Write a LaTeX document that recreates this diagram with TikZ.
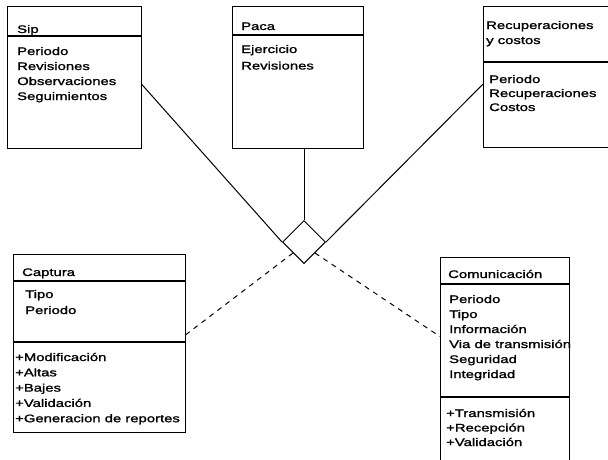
\documentclass[tikz,border=0pt]{standalone}
\usepackage{fontspec}
\setmainfont{Liberation Sans}[FakeStretch=1.35,FakeBold=1.4]
\usetikzlibrary{shapes.geometric,calc}

\tikzset{
  part/.style={draw, line width=1pt, anchor=north west, inner sep=0pt, rectangle},
  txt/.style={anchor=base west, inner sep=0pt, font=\fontsize{11}{13}\selectfont},
  link/.style={line width=1pt},
  weak/.style={line width=1pt, dash pattern=on 5pt off 5pt},
}

\begin{document}
\begin{tikzpicture}[x=1pt, y=-1pt]
\useasboundingbox (0,0) rectangle (608,459);
\clip (0,0) rectangle (608,459);

% --- Sip ---
\node[part, minimum width=134pt, minimum height=29pt] (siphead) at (7,6) {};
\node[part, minimum width=134pt, minimum height=112pt] (sipbody) at (siphead.south west) {};
\node[txt] (siptitle) at (17,33) {Sip};
\foreach \t [count=\i from 0] in {Periodo,Revisiones,Observaciones,Seguimientos}
  \node[txt] (sipattr\i) at (17,55+15*\i) {\t};

% --- Paca ---
\node[part, minimum width=131pt, minimum height=28pt] (pacahead) at (232,6) {};
\node[part, minimum width=131pt, minimum height=113pt] (pacabody) at (pacahead.south west) {};
\node[txt] (pacatitle) at (241,30) {Paca};
\foreach \t [count=\i from 0] in {Ejercicio,Revisiones}
  \node[txt] (pacaattr\i) at (241,53+16.5*\i) {\t};

% --- Recuperaciones y costos ---
\node[part, minimum width=129pt, minimum height=55pt] (rechead) at (483,6) {};
\node[part, minimum width=129pt, minimum height=85pt] (recbody) at (rechead.south west) {};
\node[txt] (rectitle0) at (486,29) {Recuperaciones};
\node[txt] (rectitle1) at (486,44) {y costos};
\foreach \t [count=\i from 0] in {Periodo,Recuperaciones,Costos}
  \node[txt] (recattr\i) at (489,83+14*\i) {\t};

% --- Captura ---
\node[part, minimum width=172pt, minimum height=26pt] (caphead) at (13,254) {};
\node[part, minimum width=172pt, minimum height=60pt] (capattr) at (caphead.south west) {};
\node[part, minimum width=172pt, minimum height=90pt] (capops) at (capattr.south west) {};
\node[txt] (captitle) at (22,276) {Captura};
\foreach \t [count=\i from 0] in {Tipo,Periodo}
  \node[txt] (capa\i) at (25,298+16*\i) {\t};
\foreach \t [count=\i from 0] in {+Modificación,+Altas,+Bajes,+Validación,+Generacion de reportes}
  \node[txt] (capo\i) at (15,361+15.3*\i) {\t};

% --- Comunicación ---
\node[part, minimum width=129pt, minimum height=26pt] (comhead) at (440,257) {};
\node[part, minimum width=129pt, minimum height=112pt] (comattr) at (comhead.south west) {};
\node[part, minimum width=129pt, minimum height=63pt] (comops) at (comattr.south west) {};
\node[txt] (comtitle) at (448,278) {Comunicación};
\foreach \t [count=\i from 0] in {Periodo,Tipo,Información,Via de transmisión,Seguridad,Integridad}
  \node[txt] (coma\i) at (449,303+15*\i) {\t};
\foreach \t [count=\i from 0] in {+Transmisión,+Recepción,+Validación}
  \node[txt] (como\i) at (446,417+14.5*\i) {\t};

% --- association diamond ---
\node[diamond, draw, line width=1pt, aspect=1, minimum width=43pt, minimum height=43pt, inner sep=0pt] (diam) at (304,242) {};

% attachment points on the class borders
\coordinate (sipport) at ($(siphead.north east)!0.55!(sipbody.south east)$);
\coordinate (recport) at ($(rechead.north west)!0.55!(recbody.south west)$);
\coordinate (capport) at ($(caphead.north east)!0.45!(capops.south east)$);
\coordinate (comport) at ($(comhead.north west)!0.39!(comops.south west)$);

% --- connectors ---
\draw[link] (sipport) -- (diam.west);
\draw[link] (diam.north |- pacabody.south) -- (diam.north);
\draw[link] (recport) -- (diam.east);
\draw[weak] (diam.south west) -- (capport);
\draw[weak] (diam.south east) -- (comport);
\end{tikzpicture}
\end{document}
